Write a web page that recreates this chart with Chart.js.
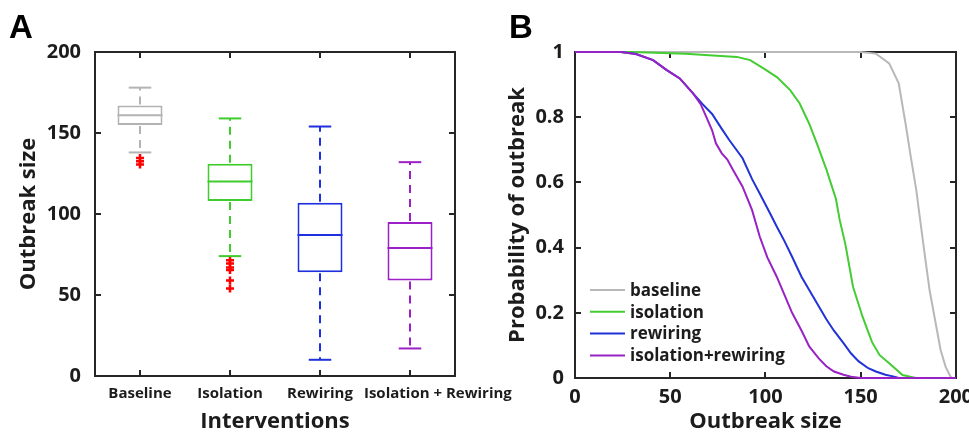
<!DOCTYPE html>
<html lang="en">
<head>
<meta charset="UTF-8">
<title>Outbreak size under interventions</title>
<script src="https://cdn.jsdelivr.net/npm/chart.js"></script>
<style>
    body { margin: 0; background: #fff; }
    .wrap { position: relative; width: 969px; height: 435px; overflow: hidden; }
    canvas { position: absolute; top: 0; z-index: 1; }
    #boxChart { left: 0; }
    #curveChart { left: 480px; }
    .letter { position: absolute; top: 10px; z-index: 2; font: bold 33px/1 "Liberation Sans", Arial, sans-serif; color: #000; }
    .frame { position: absolute; box-sizing: border-box; border: 2px solid #262626; z-index: 0; }
    .tick { position: absolute; background: #262626; z-index: 0; }
</style>
</head>
<body>
<div class="wrap">
    <canvas id="boxChart" width="520" height="435"></canvas>
    <canvas id="curveChart" width="500" height="435"></canvas>
    <div class="letter" style="left:9px">A</div>
    <div class="letter" style="left:509px">B</div>
</div>

<script>
// Panel A: box plot summary per intervention
const categories = ['Baseline', 'Isolation', 'Rewiring', 'Isolation + Rewiring'];
const q1 = [155, 108, 64, 59];
const median = [161, 120, 87, 79];
const q3 = [167, 131, 107, 95];
const whiskerLow = [138, 74, 10, 17];
const whiskerHigh = [178, 159, 154, 132];
const baselineOutliers = [134.5, 132.5, 130.5];
const isolationOutliers = [71.5, 69.5, 67, 65.5, 59, 54];
const boxColors = ['#b3b3b3', '#3fcc2c', '#1f30e0', '#9b20c8'];

// Panel B: probability of outbreak >= size
const baselineX = [0, 150, 158, 165, 170, 173.6, 176.3, 179.2, 181.5, 183.8, 186.2, 189.4, 192, 194.6, 197.2, 198, 200];
const baselineY = [1, 1, 0.995, 0.965, 0.904, 0.78, 0.68, 0.577, 0.474, 0.372, 0.27, 0.168, 0.086, 0.035, 0.004, 0, 0];
const isolationX = [0, 30, 58, 85, 92, 99, 106, 113, 118, 123, 127, 132, 137, 139, 142, 146, 151, 156, 160, 165, 172, 179, 200];
const isolationY = [1, 1, 0.995, 0.985, 0.975, 0.95, 0.923, 0.883, 0.842, 0.78, 0.72, 0.64, 0.55, 0.485, 0.41, 0.28, 0.188, 0.11, 0.07, 0.045, 0.009, 0, 0];
const rewiringX = [0, 24, 32, 41, 48, 55, 62, 67, 72, 77, 81, 88, 93, 97, 102, 106, 110, 114, 119, 123, 128, 132, 136, 141, 145, 149, 154, 158, 163, 167, 170, 200];
const rewiringY = [1, 1, 0.994, 0.975, 0.945, 0.919, 0.873, 0.84, 0.81, 0.765, 0.73, 0.674, 0.61, 0.566, 0.51, 0.464, 0.42, 0.372, 0.31, 0.27, 0.22, 0.18, 0.145, 0.107, 0.075, 0.051, 0.03, 0.02, 0.01, 0.005, 0, 0];
const bothX = [0, 24, 32, 41, 48, 55, 62, 66, 69, 72, 74, 77, 80, 83, 88, 93, 97, 101, 106, 110, 114, 119, 123, 128, 132, 136, 141, 145, 150, 200];
const bothY = [1, 1, 0.994, 0.975, 0.945, 0.919, 0.873, 0.84, 0.80, 0.76, 0.72, 0.69, 0.67, 0.638, 0.587, 0.515, 0.434, 0.37, 0.31, 0.255, 0.2, 0.145, 0.097, 0.06, 0.036, 0.02, 0.01, 0.004, 0, 0];
const curveLabels = ['baseline', 'isolation', 'rewiring', 'isolation+rewiring'];
const curveColors = ['#b8b8b8', '#44cc33', '#1f33d6', '#9922c4'];

const FONT = '"Open Sans", "Noto Sans", sans-serif';
const INK = '#1c1c1c';

function seg(ctx, x1, y1, x2, y2) {
    ctx.beginPath();
    ctx.moveTo(x1, y1);
    ctx.lineTo(x2, y2);
    ctx.stroke();
}

// axes box + inward ticks, placed behind the (transparent) canvas from the chart's own layout
function addFrame(chart, canvasLeft) {
    const wrap = document.querySelector('.wrap');
    const a = chart.chartArea;
    const put = (cls, x, y, w, h) => {
        const d = document.createElement('div');
        d.className = cls;
        d.style.left = x + 'px';
        d.style.top = y + 'px';
        d.style.width = w + 'px';
        d.style.height = h + 'px';
        wrap.appendChild(d);
    };
    put('frame', canvasLeft + a.left - 1, a.top - 1, a.right - a.left + 2, a.bottom - a.top + 2);
    const sx = chart.scales.x, sy = chart.scales.y;
    for (let i = 0; i < sx.ticks.length; i++) {
        const px = canvasLeft + sx.getPixelForTick(i);
        put('tick', px - 1, a.top, 2, 6);
        put('tick', px - 1, a.bottom - 6, 2, 6);
    }
    for (let i = 0; i < sy.ticks.length; i++) {
        const py = sy.getPixelForTick(i);
        put('tick', canvasLeft + a.left, py - 1, 6, 2);
        put('tick', canvasLeft + a.right - 6, py - 1, 6, 2);
    }
}

// whiskers, caps and median lines on top of the floating bars
const boxPartsPlugin = {
    id: 'boxParts',
    afterDatasetsDraw(chart) {
        const ctx = chart.ctx;
        const y = chart.scales.y;
        const bars = chart.getDatasetMeta(0).data;
        bars.forEach((bar, i) => {
            const cx = bar.x;
            const half = bar.width / 2;
            const yHi = y.getPixelForValue(whiskerHigh[i]);
            const yLo = y.getPixelForValue(whiskerLow[i]);
            ctx.save();
            ctx.strokeStyle = boxColors[i];
            ctx.lineWidth = 2;
            ctx.setLineDash([8, 6]);
            seg(ctx, cx, y.getPixelForValue(q3[i]) - 1, cx, yHi);
            seg(ctx, cx, y.getPixelForValue(q1[i]) + 1, cx, yLo);
            ctx.setLineDash([]);
            seg(ctx, cx - half / 2, yHi, cx + half / 2, yHi);
            seg(ctx, cx - half / 2, yLo, cx + half / 2, yLo);
            const yMed = y.getPixelForValue(median[i]);
            seg(ctx, cx - half, yMed, cx + half, yMed);
            ctx.restore();
        });
    }
};

// category labels, pushed right when they would run into the previous one
const categoryLabelPlugin = {
    id: 'catLabels',
    afterDraw(chart) {
        const { ctx, chartArea, scales } = chart;
        ctx.save();
        ctx.font = 'bold 15px ' + FONT;
        ctx.fillStyle = INK;
        ctx.textBaseline = 'middle';
        ctx.textAlign = 'left';
        let prevRight = -Infinity;
        categories.forEach((label, i) => {
            const w = ctx.measureText(label).width;
            let left = scales.x.getPixelForTick(i) - w / 2;
            if (left < prevRight + 11) left = prevRight + 11;
            ctx.fillText(label, left, chartArea.bottom + 18);
            prevRight = left + w;
        });
        ctx.restore();
    }
};

// legend inside the lower left corner of panel B
const curveLegendPlugin = {
    id: 'curveLegend',
    afterDraw(chart) {
        const { ctx, chartArea: a } = chart;
        ctx.save();
        ctx.font = 'bold 17px ' + FONT;
        ctx.textBaseline = 'middle';
        ctx.textAlign = 'left';
        chart.data.datasets.forEach((ds, i) => {
            const yy = a.bottom - 88 + i * 21.8;
            ctx.strokeStyle = ds.borderColor;
            ctx.lineWidth = 2;
            seg(ctx, a.left + 15, yy, a.left + 50, yy);
            ctx.fillStyle = INK;
            ctx.fillText(ds.label, a.left + 55, yy + 1);
        });
        ctx.restore();
    }
};

const outlierPoints = baselineOutliers.map(v => ({ x: categories[0], y: v }))
    .concat(isolationOutliers.map(v => ({ x: categories[1], y: v })));

const boxChart = new Chart(document.getElementById('boxChart'), {
    type: 'bar',
    data: {
        labels: categories,
        datasets: [
            {
                data: categories.map((c, i) => [q1[i], q3[i]]),
                backgroundColor: '#ffffff',
                borderColor: boxColors,
                borderWidth: 2,
                borderSkipped: false,
                categoryPercentage: 1,
                barPercentage: 0.5
            },
            {
                type: 'scatter',
                data: outlierPoints,
                pointStyle: 'cross',
                radius: 4,
                borderWidth: 2.5,
                borderColor: '#ff0000'
            }
        ]
    },
    options: {
        responsive: false,
        animation: false,
        events: [],
        layout: { padding: { left: 0, right: 65, top: 52, bottom: 0 } },
        plugins: { legend: { display: false }, tooltip: { enabled: false } },
        scales: {
            x: {
                type: 'category',
                offset: true,
                grid: { display: false, tickLength: 0 },
                border: { display: false },
                ticks: { display: false },
                title: { display: true, text: 'Interventions', color: INK, font: { family: FONT, size: 22, weight: 'bold' }, padding: { top: 0, bottom: 0 } },
                afterFit(scale) { scale.height = 59; }
            },
            y: {
                min: 0,
                max: 200,
                grid: { display: false, tickLength: 0 },
                border: { display: false },
                ticks: { stepSize: 50, padding: 14, color: INK, font: { family: FONT, size: 20, weight: 'bold' } },
                title: { display: true, text: 'Outbreak size', color: INK, font: { family: FONT, size: 22, weight: 'bold' }, padding: { top: 16, bottom: 0 } },
                afterFit(scale) { scale.width = 95; }
            }
        }
    },
    plugins: [boxPartsPlugin, categoryLabelPlugin]
});

const toPoints = (xs, ys) => xs.map((x, i) => ({ x: x, y: ys[i] }));
const curveData = [[baselineX, baselineY], [isolationX, isolationY], [rewiringX, rewiringY], [bothX, bothY]];

const curveChart = new Chart(document.getElementById('curveChart'), {
    type: 'line',
    data: {
        datasets: curveData.map((d, i) => ({
            label: curveLabels[i],
            data: toPoints(d[0], d[1]),
            borderColor: curveColors[i],
            order: 3 - i
        }))
    },
    options: {
        responsive: false,
        animation: false,
        events: [],
        layout: { padding: { left: 0, right: 12, top: 52, bottom: 0 } },
        elements: { point: { radius: 0 }, line: { borderWidth: 2, tension: 0 } },
        datasets: { line: { clip: false } },
        plugins: { legend: { display: false }, tooltip: { enabled: false } },
        scales: {
            x: {
                type: 'linear',
                min: 0,
                max: 200,
                grid: { display: false, tickLength: 0 },
                border: { display: false },
                ticks: { stepSize: 50, padding: 7, maxRotation: 0, color: INK, font: { family: FONT, size: 20, weight: 'bold' } },
                title: { display: true, text: 'Outbreak size', color: INK, font: { family: FONT, size: 22, weight: 'bold' }, padding: { top: 0, bottom: 0 } },
                afterFit(scale) { scale.height = 57; }
            },
            y: {
                min: 0,
                max: 1,
                grid: { display: false, tickLength: 0 },
                border: { display: false },
                ticks: {
                    stepSize: 0.2, padding: 11, color: INK, font: { family: FONT, size: 20, weight: 'bold' },
                    callback: v => String(Number(v.toFixed(2)))
                },
                title: { display: true, text: 'Probability of outbreak', color: INK, font: { family: FONT, size: 22, weight: 'bold' }, padding: { top: 25, bottom: 0 } },
                afterFit(scale) { scale.width = 95; }
            }
        }
    },
    plugins: [curveLegendPlugin]
});

addFrame(boxChart, 0);
addFrame(curveChart, 480);
</script>
</body>
</html>
